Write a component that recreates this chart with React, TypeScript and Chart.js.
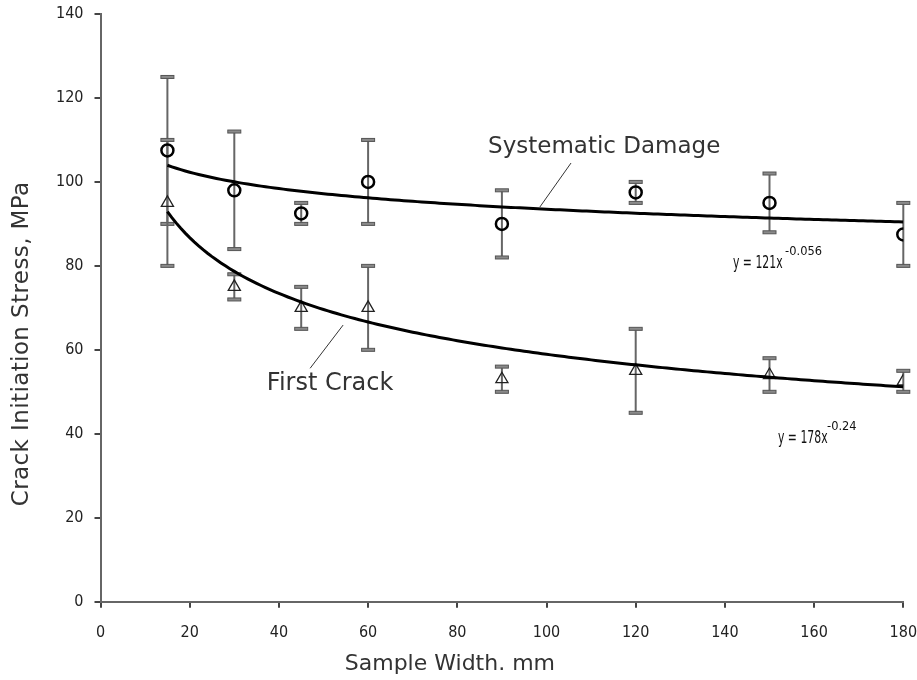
import React, { useEffect, useRef } from "react";
import { Chart, registerables } from "chart.js";

Chart.register(...registerables);

// Sample widths (mm)
const widths = [15, 30, 45, 60, 90, 120, 150, 180];

// Systematic damage: mean and ± spread (MPa)
const damageMean = [107.5, 98, 92.5, 100, 90, 97.5, 95, 87.5];
const damageErr = [17.5, 14, 2.5, 10, 8, 2.5, 7, 7.5];

// First crack: mean and ± spread (MPa)
const crackMean = [95, 75, 70, 70, 53, 55, 54, 52.5];
const crackErr = [15, 3, 5, 10, 3, 10, 4, 2.5];

// Power-law fits y = a * x^b
const damageFit = { a: 121, b: -0.056 };
const crackFit = { a: 178, b: -0.24 };

const xTicks = [0, 20, 40, 60, 80, 100, 120, 140, 160, 180];
const yTicks = [0, 20, 40, 60, 80, 100, 120, 140];

const xTitle = "Sample Width. mm";
const yTitle = "Crack Initiation Stress, MPa";

const fitPoints = (fit: { a: number; b: number }) => {
  const pts: { x: number; y: number }[] = [];
  for (let x = 15; x <= 180; x += 1) pts.push({ x, y: fit.a * Math.pow(x, fit.b) });
  return pts;
};

const errorBars = {
  id: "errorBars",
  beforeDatasetsDraw(chart: any) {
    const { ctx, scales } = chart;
    const xs = scales.x;
    const ys = scales.y;
    const sets = [
      { mean: damageMean, err: damageErr },
      { mean: crackMean, err: crackErr },
    ];
    ctx.save();
    sets.forEach(({ mean, err }) => {
      widths.forEach((w, i) => {
        const px = xs.getPixelForValue(w);
        const top = ys.getPixelForValue(mean[i] + err[i]);
        const bot = ys.getPixelForValue(mean[i] - err[i]);
        ctx.strokeStyle = "#666";
        ctx.lineWidth = 2;
        ctx.beginPath();
        ctx.moveTo(px, top);
        ctx.lineTo(px, bot);
        ctx.stroke();
        [top, bot].forEach((py) => {
          ctx.fillStyle = "#8a8a8a";
          ctx.strokeStyle = "#555";
          ctx.lineWidth = 1;
          ctx.fillRect(px - 6.5, py - 1.5, 13, 3);
          ctx.strokeRect(px - 6.5, py - 1.5, 13, 3);
        });
      });
    });
    ctx.restore();
  },
};

// Text squeezed horizontally, for the narrow equation lettering
const narrowText = (ctx: any, text: string, x: number, y: number, size: number, sx: number) => {
  ctx.save();
  ctx.translate(x, y);
  ctx.scale(sx, 1);
  ctx.font = `${size}px "DejaVu Sans"`;
  ctx.fillText(text, 0, 0);
  ctx.restore();
};

const notes = {
  id: "notes",
  afterDraw(chart: any) {
    const { ctx, scales, chartArea } = chart;
    const X = (v: number) => scales.x.getPixelForValue(v);
    const Y = (v: number) => scales.y.getPixelForValue(v);
    ctx.save();
    // leader lines
    ctx.strokeStyle = "#333";
    ctx.lineWidth = 1;
    ctx.beginPath();
    ctx.moveTo(X(105.5), Y(104.5));
    ctx.lineTo(X(98.5), Y(94));
    ctx.moveTo(X(54.4), Y(65.9));
    ctx.lineTo(X(47), Y(55.6));
    ctx.stroke();

    ctx.fillStyle = "#333";
    ctx.textBaseline = "middle";
    ctx.textAlign = "left";
    ctx.font = '23px "DejaVu Sans"';
    ctx.fillText("Systematic Damage", X(86.9), Y(108.3));
    ctx.font = '24px "DejaVu Sans"';
    ctx.fillText("First Crack", X(37.3), Y(51.8));

    // fit equations
    ctx.fillStyle = "#111";
    narrowText(ctx, `y = ${damageFit.a}x`, X(141.8), Y(80.5), 17, 0.64);
    narrowText(ctx, `y = ${crackFit.a}x`, X(151.9), Y(38.9), 17, 0.64);
    narrowText(ctx, String(damageFit.b), X(153.5), Y(83.5), 13, 0.88);
    narrowText(ctx, String(crackFit.b), X(162.9), Y(41.7), 13, 0.88);

    // axis titles
    ctx.fillStyle = "#333";
    ctx.textAlign = "center";
    ctx.font = '22px "DejaVu Sans"';
    ctx.fillText(xTitle, (chartArea.left + chartArea.right) / 2 - 52, chartArea.bottom + 63);
    ctx.save();
    ctx.translate(chartArea.left - 78.5, (chartArea.top + chartArea.bottom) / 2 + 36);
    ctx.rotate(-Math.PI / 2);
    ctx.font = '23px "DejaVu Sans"';
    (ctx as any).letterSpacing = "0.4px";
    ctx.fillText(yTitle, 0, 0);
    ctx.restore();
    ctx.restore();
  },
};

export default function App() {
  const ref = useRef<HTMLCanvasElement>(null);

  useEffect(() => {
    if (!ref.current) return;
    const chart = new Chart(ref.current, {
      type: "scatter",
      data: {
        datasets: [
          {
            label: "Systematic Damage fit",
            type: "line",
            data: fitPoints(damageFit),
            borderColor: "#000",
            borderWidth: 3,
            pointRadius: 0,
            tension: 0,
          },
          {
            label: "First Crack fit",
            type: "line",
            data: fitPoints(crackFit),
            borderColor: "#000",
            borderWidth: 3,
            pointRadius: 0,
            tension: 0,
          },
          {
            label: "Systematic Damage",
            data: widths.map((x, i) => ({ x, y: damageMean[i] })),
            pointStyle: "circle",
            pointRadius: 6,
            pointBorderWidth: 2.5,
            borderColor: "#000",
            backgroundColor: "rgba(255,255,255,0)",
            showLine: false,
          },
          {
            label: "First Crack",
            data: widths.map((x, i) => ({ x, y: crackMean[i] })),
            pointStyle: "triangle",
            pointRadius: 7,
            pointBorderWidth: 1.3,
            borderColor: "#222",
            backgroundColor: "rgba(255,255,255,0)",
            showLine: false,
          },
        ],
      },
      options: {
        animation: false,
        responsive: true,
        maintainAspectRatio: false,
        layout: { padding: { top: 14, right: 13.7, left: 0, bottom: 0 } },
        plugins: { legend: { display: false }, tooltip: { enabled: false } },
        scales: {
          x: {
            type: "linear",
            min: 0,
            max: 180,
            afterFit: (s: any) => {
              s.height = 78.3;
              s.paddingLeft = 0;
              s.paddingRight = 0;
            },
            afterBuildTicks: (s: any) => {
              s.ticks = xTicks.map((v) => ({ value: v }));
            },
            grid: { drawOnChartArea: false, drawTicks: true, tickLength: 6, color: "#444", lineWidth: 2 },
            border: { color: "#666", width: 2 },
            ticks: {
              color: "#222",
              padding: 16,
              font: { family: "DejaVu Sans Condensed", size: 16 },
            },
          },
          y: {
            type: "linear",
            min: 0,
            max: 140,
            afterFit: (s: any) => {
              s.width = 100.5;
              s.paddingTop = 0;
              s.paddingBottom = 0;
            },
            afterBuildTicks: (s: any) => {
              s.ticks = yTicks.map((v) => ({ value: v }));
            },
            grid: { drawOnChartArea: false, drawTicks: true, tickLength: 6, color: "#444", lineWidth: 2 },
            border: { color: "#666", width: 2 },
            ticks: {
              color: "#222",
              padding: 11,
              font: { family: "DejaVu Sans Condensed", size: 16 },
            },
          },
        },
      },
      plugins: [errorBars, notes],
    });
    return () => chart.destroy();
  }, []);

  return (
    <div style={{ position: "absolute", left: 0, top: 0, width: 917, height: 680, background: "#fff" }}>
      <canvas ref={ref} />
    </div>
  );
}
